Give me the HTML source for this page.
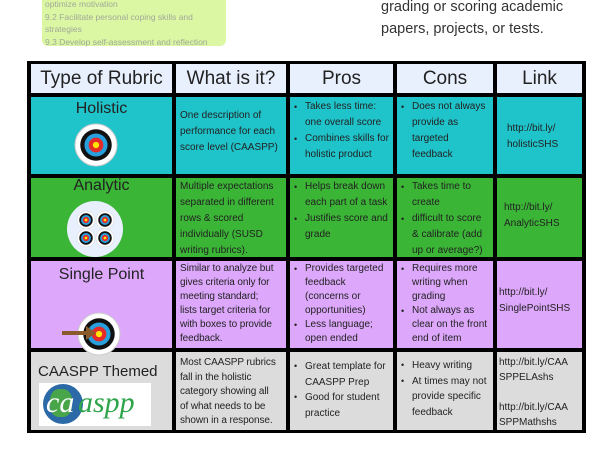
<!DOCTYPE html>
<html><head><meta charset="utf-8"><style>
*{margin:0;padding:0;box-sizing:border-box}
body{width:600px;height:450px;background:#fff;position:relative;overflow:hidden;font-family:"Liberation Sans",sans-serif;color:#222}
.c{position:absolute;font-size:10px;line-height:14px;padding:0 4px;overflow:hidden;white-space:nowrap}
.h{position:absolute;background:#e8f0fe;font-size:19px;text-align:center;line-height:29px}
ul{list-style:none}
li{position:relative;padding-left:12px}
li:before{content:"•";position:absolute;left:1px;font-size:9px}
.t{position:absolute;font-size:16px;text-align:center}
</style></head><body>
<div style="position:absolute;left:42px;top:-10px;width:184px;height:56px;background:#dcf7a4;border-radius:6px;font-size:8.5px;line-height:12.5px;color:#a0a898;padding:8px 3px 0">optimize motivation<br>9.2 Facilitate personal coping skills and strategies<br>9.3 Develop self-assessment and reflection</div>
<div style="position:absolute;left:381px;top:-4px;font-size:14.5px;line-height:22px;color:#333">grading or scoring academic<br>papers, projects, or tests.</div>

<div style="position:absolute;left:27px;top:61px;width:559px;height:372px;background:#000"></div>
<div class="h" style="left:31px;top:64px;width:141px;height:29px">Type of Rubric</div>
<div class="h" style="left:176px;top:64px;width:110px;height:29px">What is it?</div>
<div class="h" style="left:290px;top:64px;width:103px;height:29px">Pros</div>
<div class="h" style="left:397px;top:64px;width:96px;height:29px">Cons</div>
<div class="h" style="left:497px;top:64px;width:85px;height:29px">Link</div>

<!-- row1 -->
<div class="c" style="left:31px;top:97px;width:141px;height:77px;background:#1fc3ca"></div>
<div class="t" style="left:31px;top:100px;width:141px">Holistic</div>
<div class="c" style="left:176px;top:97px;width:110px;height:77px;background:#1fc3ca;padding-top:11px;line-height:16px">One description of<br>performance for each<br>score level (CAASPP)</div>
<div class="c" style="left:290px;top:97px;width:103px;height:77px;background:#1fc3ca;padding:2px 0 0 3px;line-height:16px"><ul><li>Takes less time:<br>one overall score</li><li>Combines skills for<br>holistic product</li></ul></div>
<div class="c" style="left:397px;top:97px;width:96px;height:77px;background:#1fc3ca;padding:2px 0 0 3px;line-height:16px"><ul><li>Does not always<br>provide as<br>targeted<br>feedback</li></ul></div>
<div class="c" style="left:497px;top:97px;width:85px;height:77px;background:#1fc3ca;padding:24px 0 0 10px;line-height:16px">http://bit.ly/<br>holisticSHS</div>

<!-- row2 -->
<div class="c" style="left:31px;top:178px;width:141px;height:79px;background:#3bb536"></div>
<div class="t" style="left:31px;top:177px;width:141px">Analytic</div>
<div class="c" style="left:176px;top:178px;width:110px;height:79px;background:#3bb536;padding-top:1px;line-height:16px">Multiple expectations<br>separated in different<br>rows &amp; scored<br>individually (SUSD<br>writing rubrics).</div>
<div class="c" style="left:290px;top:178px;width:103px;height:79px;background:#3bb536;padding:1px 0 0 3px;line-height:16px"><ul><li>Helps break down<br>each part of a task</li><li>Justifies score and<br>grade</li></ul></div>
<div class="c" style="left:397px;top:178px;width:96px;height:79px;background:#3bb536;padding:1px 0 0 3px;line-height:16px"><ul><li>Takes time to<br>create</li><li>difficult to score<br>&amp; calibrate (add<br>up or average?)</li></ul></div>
<div class="c" style="left:497px;top:178px;width:85px;height:79px;background:#3bb536;padding:22px 0 0 7px;line-height:16px">http://bit.ly/<br>AnalyticSHS</div>

<!-- row3 -->
<div class="c" style="left:31px;top:261px;width:141px;height:87px;background:#dda7fb"></div>
<div class="t" style="left:31px;top:266px;width:141px">Single Point</div>
<div class="c" style="left:176px;top:261px;width:110px;height:87px;background:#dda7fb;padding:1px 2px 0 4px;letter-spacing:-0.1px">Similar to analyze but<br>gives criteria only for<br>meeting standard;<br>lists target criteria for<br>with boxes to provide<br>feedback.</div>
<div class="c" style="left:290px;top:261px;width:103px;height:87px;background:#dda7fb;padding:1px 0 0 3px"><ul><li>Provides targeted<br>feedback<br>(concerns or<br>opportunities)</li><li>Less language;<br>open ended</li></ul></div>
<div class="c" style="left:397px;top:261px;width:96px;height:87px;background:#dda7fb;padding:1px 0 0 3px"><ul><li>Requires more<br>writing when<br>grading</li><li>Not always as<br>clear on the front<br>end of item</li></ul></div>
<div class="c" style="left:497px;top:261px;width:85px;height:87px;background:#dda7fb;padding:24px 0 0 2px;line-height:16px">http://bit.ly/<br>SinglePointSHS</div>

<!-- row4 -->
<div class="c" style="left:31px;top:352px;width:141px;height:78px;background:#dcdcdc"></div>
<div class="t" style="left:38px;top:363px;font-size:15px">CAASPP Themed</div>
<div style="position:absolute;left:39px;top:383px;width:112px;height:43px;background:#fff"></div>
<div style="position:absolute;left:43px;top:384px;width:40px;height:40px;border-radius:50%;background:#2b6aa6"></div>
<div style="position:absolute;left:50px;top:389px;width:22px;height:28px;border-radius:40%;background:#49a54a"></div>
<div style="position:absolute;left:46px;top:386px;font-size:30px;font-style:italic;color:#fff;font-family:'Liberation Serif',serif;line-height:34px">ca</div>
<div style="position:absolute;left:78px;top:386px;font-size:30px;font-style:italic;color:#2ea44a;font-family:'Liberation Serif',serif;line-height:34px">aspp</div>
<div class="c" style="left:176px;top:352px;width:110px;height:78px;background:#dcdcdc;padding:4px 2px 0 4px;letter-spacing:-0.1px;line-height:14.5px">Most CAASPP rubrics<br>fall in the holistic<br>category showing all<br>of what needs to be<br>shown in a response.</div>
<div class="c" style="left:290px;top:352px;width:103px;height:78px;background:#dcdcdc;padding:7px 0 0 3px;line-height:15.5px"><ul><li>Great template for<br>CAASPP Prep</li><li>Good for student<br>practice</li></ul></div>
<div class="c" style="left:397px;top:352px;width:96px;height:78px;background:#dcdcdc;padding:6px 0 0 3px;line-height:15.5px"><ul><li>Heavy writing</li><li>At times may not<br>provide specific<br>feedback</li></ul></div>
<div class="c" style="left:497px;top:352px;width:85px;height:78px;background:#dcdcdc;padding:3px 0 0 2px;line-height:15px">http://bit.ly/CAA<br>SPPELAshs<br><br>http://bit.ly/CAA<br>SPPMathshs</div>

<svg style="position:absolute;left:0;top:0" width="600" height="450">
<defs><g id="tg"><circle r="10" fill="#fff" stroke="#ccc" stroke-width=".5"/><circle r="7.5" fill="#111"/><circle r="5.5" fill="#29a0de"/><circle r="3.5" fill="#e52a2a"/><circle r="1.5" fill="#ffe600"/></g></defs>
<use href="#tg" transform="translate(96,145) scale(2.1)"/>
<circle cx="95" cy="229" r="28" fill="#e8f0fe"/>
<use href="#tg" transform="translate(86,220) scale(.9)"/>
<use href="#tg" transform="translate(105,220) scale(.9)"/>
<use href="#tg" transform="translate(86,238) scale(.9)"/>
<use href="#tg" transform="translate(105,238) scale(.9)"/>
<use href="#tg" transform="translate(99,334) scale(2.1)"/>
<line x1="62" y1="333" x2="88" y2="333" stroke="#8b5a2b" stroke-width="4"/>
<polygon points="86,326 96,333 86,340" fill="#8b5a2b"/>
</svg>
</body></html>
